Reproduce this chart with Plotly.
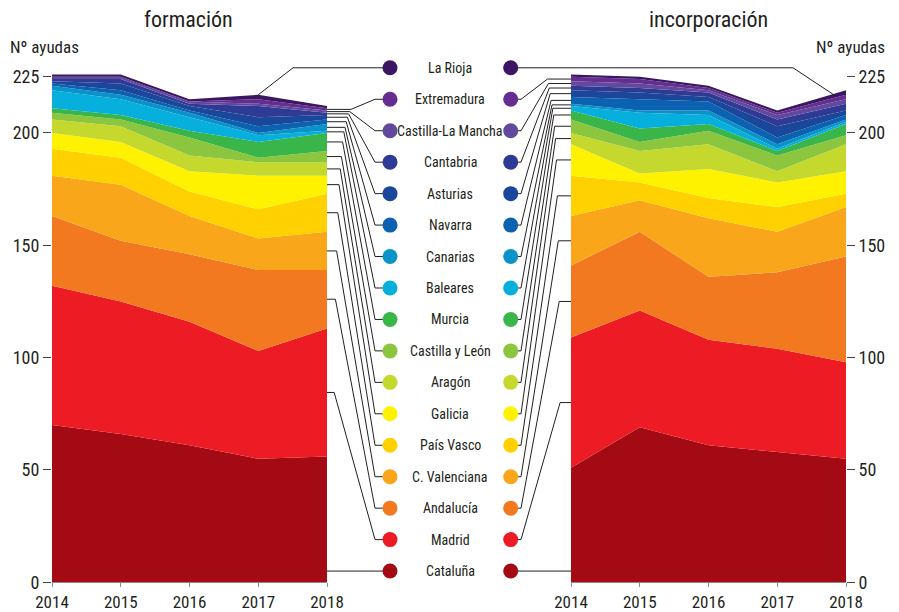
import plotly.graph_objects as go

years = [2014, 2015, 2016, 2017, 2018]

regions = ["Cataluña", "Madrid", "Andalucía", "C. Valenciana", "País Vasco", "Galicia",
           "Aragón", "Castilla y León", "Murcia", "Baleares", "Canarias", "Navarra",
           "Asturias", "Cantabria", "Castilla-La Mancha", "Extremadura", "La Rioja"]

region_colors = ["#a30a13", "#ed1c24", "#f37920", "#f9a61b", "#ffd100", "#fff200",
                 "#c4d82e", "#8cc63f", "#3ab54a", "#07afdc", "#0a93c8", "#0a62b0",
                 "#1b479b", "#2e3a94", "#614a9e", "#662d91", "#3b1763"]

# formación (Nº ayudas)
f_cataluna = [70, 66, 61, 55, 56]
f_madrid = [62, 59, 55, 48, 57]
f_andalucia = [31, 27, 30, 36, 26]
f_cvalenciana = [18, 25, 17, 14, 17]
f_paisvasco = [12, 12, 11, 13, 17]
f_galicia = [7, 7, 9, 15, 8]
f_aragon = [6, 7, 7, 6, 6]
f_castillayleon = [3, 3, 8, 2, 5]
f_murcia = [2, 2, 3, 7, 8]
f_baleares = [8, 7, 6, 3, 1]
f_canarias = [2, 2, 2, 1, 3]
f_navarra = [1, 2, 1, 3, 2]
f_asturias = [1, 3, 2, 4, 2]
f_cantabria = [1, 2, 1, 5, 1]
f_clm = [1, 1, 1, 1, 1]
f_extremadura = [0, 0, 0, 2, 1]
f_larioja = [1, 1, 1, 2, 1]

# incorporación (Nº ayudas)
i_cataluna = [51, 69, 61, 58, 55]
i_madrid = [58, 52, 47, 46, 43]
i_andalucia = [32, 35, 28, 34, 47]
i_cvalenciana = [22, 14, 26, 18, 22]
i_paisvasco = [18, 8, 9, 11, 6]
i_galicia = [14, 4, 13, 11, 10]
i_aragon = [5, 10, 11, 5, 12]
i_castillayleon = [6, 4, 6, 7, 4]
i_murcia = [4, 6, 3, 2, 5]
i_baleares = [2, 7, 4, 1, 1]
i_canarias = [1, 1, 2, 2, 1]
i_navarra = [3, 5, 4, 3, 2]
i_asturias = [3, 3, 2, 5, 2]
i_cantabria = [2, 2, 2, 3, 3]
i_clm = [2, 2, 1, 2, 2]
i_extremadura = [2, 2, 1, 1, 2]
i_larioja = [1, 1, 1, 1, 2]

y_ticks = [0, 50, 100, 150, 200, 225]

formacion = [f_cataluna, f_madrid, f_andalucia, f_cvalenciana, f_paisvasco, f_galicia,
             f_aragon, f_castillayleon, f_murcia, f_baleares, f_canarias, f_navarra,
             f_asturias, f_cantabria, f_clm, f_extremadura, f_larioja]
incorporacion = [i_cataluna, i_madrid, i_andalucia, i_cvalenciana, i_paisvasco, i_galicia,
                 i_aragon, i_castillayleon, i_murcia, i_baleares, i_canarias, i_navarra,
                 i_asturias, i_cantabria, i_clm, i_extremadura, i_larioja]

# ---------------- layout geometry (page pixels; the page body has an 8px margin) ----------------
PAGE_W, PAGE_H = 899, 612
OFF = 8
W, H = PAGE_W - OFF, PAGE_H - OFF
FONT = "Roboto Condensed, Roboto, sans-serif"
TXT = "#231f20"
YMAX = 240
Y0_PX, YTOP_PX = 582.3, 43.1


def px_x(p):
    return (p - OFF) / W


def px_y(p):
    return (H - (p - OFF)) / H


y_dom = [px_y(Y0_PX), px_y(YTOP_PX)]
left_px = (52, 327)
right_px = (571, 846)
legend_step = 14
legend_base = 5
dot_left_x, dot_right_x, label_x = 390, 510.7, 450


def to_px(year, rng):
    return rng[0] + (year - years[0]) / (years[-1] - years[0]) * (rng[1] - rng[0])


def bounds(series, k, idx):
    lo = sum(s[idx] for s in series[:k])
    return lo, lo + series[k][idx]


fig = go.Figure()

for name, col, vals in zip(regions, region_colors, formacion):
    fig.add_trace(go.Scatter(x=years, y=vals, stackgroup="f", mode="lines",
                             line=dict(width=0, color=col), fillcolor=col, name=name,
                             xaxis="x", yaxis="y", showlegend=False))
for name, col, vals in zip(regions, region_colors, incorporacion):
    fig.add_trace(go.Scatter(x=years, y=vals, stackgroup="i", mode="lines",
                             line=dict(width=0, color=col), fillcolor=col, name=name,
                             xaxis="x2", yaxis="y2", showlegend=False))

LINE = dict(color=TXT, width=1)
n = len(regions)
legend_y = [legend_base + legend_step * k for k in range(n)]

# connectors - left (from 2018 edge of formación)
for k in range(n):
    yt = legend_y[k]
    if regions[k] == "La Rioja":
        top17 = sum(s[3] for s in formacion)
        xs = [to_px(2017, left_px), 293, dot_left_x - 7]
        ys = [top17, yt, yt]
    else:
        b, t = bounds(formacion, k, 4)
        x0 = to_px(2018, left_px)
        if b <= yt <= t:
            xs, ys = [x0, dot_left_x - 7], [yt, yt]
        else:
            mid = (b + t) / 2
            turn = 333 + 1.2 * k
            xs = [x0, turn, 375, dot_left_x - 7]
            ys = [mid, mid, yt, yt]
    fig.add_trace(go.Scatter(x=xs, y=ys, mode="lines", line=LINE, xaxis="x3", yaxis="y3",
                             showlegend=False, hoverinfo="skip"))

# connectors - right (from 2014 edge of incorporación)
for k in range(n):
    yt = legend_y[k]
    if regions[k] == "La Rioja":
        f = 0.84
        b17, t17 = bounds(incorporacion, k, 3)
        b18, t18 = bounds(incorporacion, k, 4)
        mid = ((b17 + t17) / 2) * (1 - f) + ((b18 + t18) / 2) * f
        xs = [dot_right_x + 7, 793, to_px(2017 + f, right_px)]
        ys = [yt, yt, mid]
    else:
        b, t = bounds(incorporacion, k, 0)
        x0 = to_px(2014, right_px)
        if b <= yt <= t:
            xs, ys = [x0, dot_right_x + 7], [yt, yt]
        else:
            mid = (b + t) / 2
            turn = 561 - 0.9 * k
            xs = [x0, turn, 521, dot_right_x + 7]
            ys = [mid, mid, yt, yt]
    fig.add_trace(go.Scatter(x=xs, y=ys, mode="lines", line=LINE, xaxis="x3", yaxis="y3",
                             showlegend=False, hoverinfo="skip"))

# legend dots
for xd in (dot_left_x, dot_right_x):
    fig.add_trace(go.Scatter(x=[xd] * n, y=legend_y, mode="markers",
                             marker=dict(size=15, color=region_colors, line=dict(width=0)),
                             xaxis="x3", yaxis="y3", showlegend=False, cliponaxis=False,
                             hoverinfo="skip"))

annotations = []
for k in range(n):
    annotations.append(dict(x=label_x, y=legend_y[k], xref="x3", yref="y3", text=regions[k],
                            showarrow=False, font=dict(family=FONT, size=14, color=TXT),
                            xanchor="center", yanchor="middle"))


def page_text(x, y, text, size):
    return dict(x=px_x(x), y=px_y(y), xref="paper", yref="paper", text=text, showarrow=False,
                xanchor="center", yanchor="middle", font=dict(family=FONT, size=size, color=TXT))


annotations += [
    page_text(188.5, 20, "formación", 22),
    page_text(708, 20, "incorporación", 22),
    page_text(44, 47, "Nº ayudas", 17),
    page_text(850, 47, "Nº ayudas", 17),
]

xaxis_common = dict(range=[years[0], years[-1]], tickvals=years, ticktext=[str(y) for y in years],
                    showgrid=False, zeroline=False, showline=True, linecolor="#8a8a8a",
                    linewidth=1, ticks="outside", ticklen=4, tickcolor="#8a8a8a",
                    tickfont=dict(family=FONT, size=17, color=TXT), fixedrange=True)
yaxis_common = dict(range=[0, YMAX], domain=y_dom, tickvals=y_ticks,
                    ticktext=[str(v) for v in y_ticks], showgrid=False, zeroline=False,
                    showline=False, ticks="outside", ticklen=8, tickcolor="#444444",
                    tickfont=dict(family=FONT, size=18, color=TXT), fixedrange=True)

fig.update_layout(
    width=W, height=H, autosize=False,
    margin=dict(l=0, r=0, t=0, b=0, autoexpand=False),
    paper_bgcolor="white", plot_bgcolor="rgba(0,0,0,0)",
    xaxis=dict(domain=[px_x(left_px[0]), px_x(left_px[1])], anchor="y", **xaxis_common),
    yaxis=dict(anchor="x", side="left", **yaxis_common),
    xaxis2=dict(domain=[px_x(right_px[0]), px_x(right_px[1])], anchor="y2", **xaxis_common),
    yaxis2=dict(anchor="x2", side="right", **yaxis_common),
    xaxis3=dict(domain=[0, 1], range=[OFF, PAGE_W], visible=False, anchor="y3", fixedrange=True),
    yaxis3=dict(domain=y_dom, range=[0, YMAX], visible=False, anchor="x3", fixedrange=True),
    annotations=annotations,
    showlegend=False,
    hovermode=False,
)

fig.write_html("out.html")
